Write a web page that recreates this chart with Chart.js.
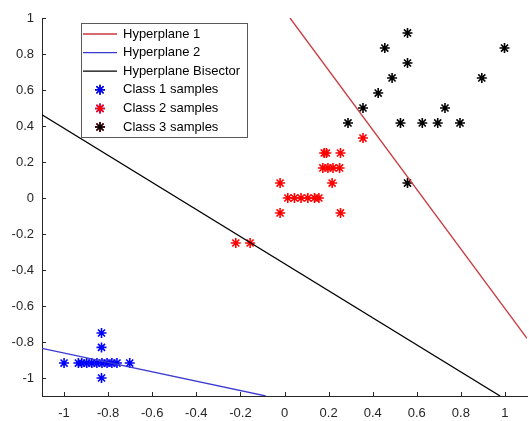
<!DOCTYPE html>
<html>
<head>
<meta charset="utf-8">
<script src="https://cdn.jsdelivr.net/npm/chart.js@4.4.1/dist/chart.umd.min.js"></script>
<style>
  html, body { margin: 0; padding: 0; background: #fff; overflow: hidden; }
  #wrap { width: 529px; height: 421px; }
  #chart { display: block; }
</style>
</head>
<body>
<div id="wrap"><canvas id="chart" width="529" height="421"></canvas></div>
<script>
// tick labels
const xTicks = [-1, -0.8, -0.6, -0.4, -0.2, 0, 0.2, 0.4, 0.6, 0.8, 1];
const yTicks = [-1, -0.8, -0.6, -0.4, -0.2, 0, 0.2, 0.4, 0.6, 0.8, 1];

// hyperplane end points [x, y]
const hyperplane1 = [[0.025, 1], [1.1, -0.78]];
const hyperplane2 = [[-1.1, -0.835], [-0.085, -1.1]];
const bisector = [[-1.1, 0.462], [0.978, -1.1]];

// samples
const class1X = [-0.83, -0.83, -1.0, -0.935, -0.92, -0.897, -0.874, -0.851, -0.828, -0.805, -0.783, -0.76, -0.702, -0.83];
const class1Y = [-0.75, -0.83, -0.917, -0.917, -0.917, -0.917, -0.917, -0.917, -0.917, -0.917, -0.917, -0.917, -0.917, -1.0];

const class2X = [0.356, 0.18, 0.19, 0.254, 0.174, 0.197, 0.22, 0.25, -0.02, 0.216, 0.015, 0.045, 0.075, 0.106, 0.136, 0.156, -0.02, 0.254, -0.221, -0.156];
const class2Y = [0.333, 0.25, 0.25, 0.25, 0.167, 0.167, 0.167, 0.167, 0.083, 0.083, 0, 0, 0, 0, 0, 0, -0.083, -0.083, -0.25, -0.25];

const class3X = [0.558, 0.455, 0.998, 0.558, 0.488, 0.895, 0.425, 0.356, 0.728, 0.288, 0.526, 0.625, 0.695, 0.796, 0.558];
const class3Y = [0.917, 0.833, 0.833, 0.75, 0.667, 0.667, 0.583, 0.5, 0.5, 0.417, 0.417, 0.417, 0.417, 0.417, 0.083];

const toPoints = (xs, ys) => xs.map((x, i) => ({ x: x, y: ys[i] }));
const toLine = (pts) => pts.map((p) => ({ x: p[0], y: p[1] }));

const FONT = "'Liberation Sans', Arial, sans-serif";
const AXIS_COLOR = "#262626";

// ticks drawn inward like the original
const innerTicks = {
  id: "innerTicks",
  afterDraw(chart) {
    const ctx = chart.ctx;
    const xs = chart.scales.x;
    const ys = chart.scales.y;
    const area = chart.chartArea;
    ctx.save();
    ctx.strokeStyle = AXIS_COLOR;
    ctx.lineWidth = 1;
    ctx.beginPath();
    xTicks.forEach((v) => {
      const px = Math.round(xs.getPixelForValue(v)) + 0.5;
      ctx.moveTo(px, area.bottom);
      ctx.lineTo(px, area.bottom - 4);
    });
    yTicks.forEach((v) => {
      const py = Math.round(ys.getPixelForValue(v)) + 0.5;
      ctx.moveTo(area.left, py);
      ctx.lineTo(area.left + 4, py);
    });
    ctx.stroke();
    ctx.restore();
  },
};

// legend box drawn inside the axes
const boxLegend = {
  id: "boxLegend",
  afterDraw(chart) {
    const ctx = chart.ctx;
    const left = 81, top = 23, width = 166, height = 114;
    const rowH = 18.6;
    ctx.save();
    ctx.fillStyle = "#fff";
    ctx.fillRect(left, top, width, height);
    ctx.strokeStyle = "#5a5a5a";
    ctx.lineWidth = 1;
    ctx.strokeRect(left + 0.5, top + 0.5, width, height);
    ctx.font = "13px " + FONT;
    ctx.textBaseline = "middle";
    chart.data.datasets.forEach((ds, i) => {
      const cy = top + 11 + i * rowH;
      if (ds.showLine) {
        ctx.strokeStyle = ds.borderColor;
        ctx.lineWidth = 1.3;
        ctx.beginPath();
        ctx.moveTo(83, cy);
        ctx.lineTo(117, cy);
        ctx.stroke();
      } else {
        Chart.helpers.drawPoint(ctx, {
          pointStyle: "star",
          radius: 5,
          borderWidth: 1.5,
          rotation: 0,
        }, 100, cy);
        ctx.strokeStyle = ds.borderColor;
        ctx.lineWidth = 1.5;
        ctx.stroke();
      }
      ctx.fillStyle = "#000";
      ctx.fillText(ds.label, 123, cy);
    });
    ctx.restore();
  },
};

function lineSet(label, pts, color) {
  return {
    label: label,
    data: toLine(pts),
    showLine: true,
    borderColor: color,
    borderWidth: 1.3,
    pointRadius: 0,
    fill: false,
  };
}

function markerSet(label, xs, ys, color) {
  return {
    label: label,
    data: toPoints(xs, ys),
    showLine: false,
    pointStyle: "star",
    pointRadius: 5,
    pointBorderWidth: 1.6,
    borderColor: color,
    backgroundColor: color,
  };
}

new Chart(document.getElementById("chart"), {
  type: "scatter",
  data: {
    datasets: [
      lineSet("Hyperplane 1", hyperplane1, "#c8383e"),
      lineSet("Hyperplane 2", hyperplane2, "#3a3ad0"),
      lineSet("Hyperplane Bisector", bisector, "#000000"),
      markerSet("Class 1 samples", class1X, class1Y, "#0000ff"),
      markerSet("Class 2 samples", class2X, class2Y, "#ff0000"),
      markerSet("Class 3 samples", class3X, class3Y, "#000000"),
    ],
  },
  options: {
    responsive: false,
    animation: false,
    layout: { autoPadding: false, padding: { top: 18, right: 2, left: 0, bottom: 0 } },
    plugins: {
      legend: { display: false },
      tooltip: { enabled: false },
    },
    scales: {
      x: {
        type: "linear",
        min: -1.1,
        max: 1.1,
        afterBuildTicks: (scale) => {
          scale.ticks = xTicks.map((v) => ({ value: v }));
        },
        afterFit: (scale) => {
          scale.height = 25;
          scale.paddingLeft = 0;
          scale.paddingRight = 0;
        },
        grid: { display: true, drawOnChartArea: false, drawTicks: false },
        border: { display: true, color: AXIS_COLOR, width: 1 },
        ticks: {
          color: "#262626",
          font: { family: FONT, size: 13 },
          padding: 10,
          maxRotation: 0,
          autoSkip: false,
          callback: (v) => String(Math.round(v * 10) / 10),
        },
      },
      y: {
        type: "linear",
        min: -1.1,
        max: 1,
        afterBuildTicks: (scale) => {
          scale.ticks = yTicks.map((v) => ({ value: v }));
        },
        afterFit: (scale) => {
          scale.width = 42;
          scale.paddingTop = 0;
          scale.paddingBottom = 0;
        },
        grid: { display: true, drawOnChartArea: false, drawTicks: false },
        border: { display: true, color: AXIS_COLOR, width: 1 },
        ticks: {
          color: "#262626",
          font: { family: FONT, size: 13 },
          padding: 8,
          autoSkip: false,
          callback: (v) => String(Math.round(v * 10) / 10),
        },
      },
    },
  },
  plugins: [innerTicks, boxLegend],
});
</script>
</body>
</html>
